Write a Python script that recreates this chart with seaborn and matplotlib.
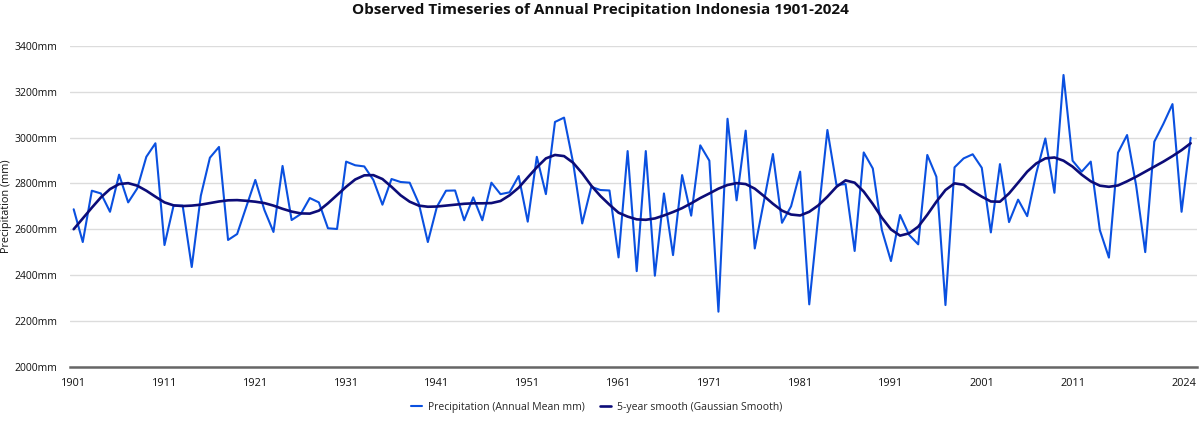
import numpy as np
import pandas as pd
import matplotlib
matplotlib.use("Agg")
import matplotlib.pyplot as plt
import matplotlib.transforms as mtransforms
import seaborn as sns

years = list(range(1901, 2025))

precip = [
    2687, 2544, 2768, 2756, 2676, 2838, 2717, 2778, 2916, 2975,
    2531, 2703, 2703, 2435, 2746, 2912, 2959, 2553, 2579, 2697,
    2815, 2684, 2588, 2876, 2640, 2666, 2736, 2717, 2604, 2601,
    2895, 2879, 2874, 2815, 2707, 2819, 2806, 2803, 2713, 2544,
    2698, 2768, 2769, 2639, 2739, 2639, 2803, 2753, 2761, 2832,
    2633, 2916, 2753, 3068, 3087, 2890, 2625, 2785, 2771, 2769,
    2477, 2941, 2417, 2941, 2397, 2756, 2487, 2836, 2659, 2966,
    2899, 2240, 3082, 2726, 3030, 2516, 2720, 2928, 2628, 2700,
    2851, 2272, 2660, 3033, 2793, 2797, 2505, 2935, 2865, 2596,
    2461, 2662, 2575, 2534, 2924, 2829, 2269, 2870, 2909, 2927,
    2868, 2586, 2884, 2631, 2729, 2657, 2844, 2996, 2759, 3273,
    2899, 2851, 2895, 2596, 2476, 2934, 3011, 2790, 2500, 2982,
    3060, 3146, 2676, 2999,
]

smooth = [
    2600, 2647, 2694, 2739, 2775, 2797, 2801, 2790, 2768, 2742,
    2717, 2704, 2701, 2703, 2707, 2714, 2721, 2726, 2727, 2724,
    2720, 2714, 2703, 2689, 2677, 2669, 2668, 2681, 2713, 2749,
    2785, 2817, 2835, 2836, 2819, 2785, 2748, 2720, 2703, 2698,
    2699, 2703, 2707, 2711, 2713, 2713, 2714, 2723, 2748, 2781,
    2826, 2870, 2909, 2924, 2919, 2890, 2844, 2790, 2745, 2707,
    2672, 2655, 2643, 2641, 2647, 2660, 2675, 2692, 2713, 2736,
    2756, 2777, 2793, 2801, 2797, 2777, 2745, 2711, 2681, 2664,
    2660, 2676, 2704, 2742, 2785, 2813, 2803, 2764, 2710, 2650,
    2599, 2572, 2582, 2611, 2663, 2720, 2771, 2800, 2794, 2766,
    2742, 2721, 2720, 2756, 2803, 2851, 2887, 2909, 2913, 2899,
    2873, 2838, 2809, 2790, 2785, 2791, 2809, 2829, 2851, 2873,
    2895, 2919, 2945, 2975,
]

series_names = ["Precipitation (Annual Mean mm)", "5-year smooth (Gaussian Smooth)"]
x_ticks = [1901, 1911, 1921, 1931, 1941, 1951, 1961, 1971, 1981, 1991, 2001, 2011, 2024]
y_ticks = [2000, 2200, 2400, 2600, 2800, 3000, 3200, 3400]

df = pd.DataFrame({
    "Year": years * 2,
    "Value": precip + smooth,
    "Series": [series_names[0]] * len(years) + [series_names[1]] * len(years),
})

sns.set_theme(style="white")
plt.rcParams["font.family"] = ["Open Sans", "DejaVu Sans"]

fig, ax = plt.subplots(figsize=(12, 4.21), dpi=100)
fig.subplots_adjust(left=0.058, right=0.9975, bottom=0.129, top=0.891)

palette = {series_names[0]: "#0a50e0", series_names[1]: "#0c0c78"}
sizes = {series_names[0]: 1.5, series_names[1]: 1.9}
sns.lineplot(data=df, x="Year", y="Value", hue="Series", size="Series",
             palette=palette, sizes=sizes, hue_order=series_names,
             size_order=series_names, ax=ax, legend=False)

ax.set_xlim(1900.55, 2024.7)
ax.set_ylim(2000, 3400)
ax.set_xticks(x_ticks)
ax.set_xticklabels([str(t) for t in x_ticks], fontsize=7.8, color="#111111")
ax.set_yticks(y_ticks)
ax.set_yticklabels([f"{t}mm" for t in y_ticks], fontsize=7.5, color="#111111")
ax.tick_params(axis="x", length=0, pad=8)
ax.tick_params(axis="y", length=0, pad=8.6)
# keep the last year label inside the figure
last = ax.get_xticklabels()[-1]
last.set_transform(last.get_transform() +
                   mtransforms.ScaledTranslation(-7 / 100, 0, fig.dpi_scale_trans))

ax.grid(axis="y", color="#dcdcdc", linewidth=1)
ax.grid(axis="x", visible=False)
for side in ["left", "right", "top"]:
    ax.spines[side].set_visible(False)
ax.spines["bottom"].set_color("#666666")
ax.spines["bottom"].set_linewidth(1.8)

ax.set_xlabel("")
ax.set_ylabel("Precipitation (mm)", fontsize=7.8, color="#111111")
ax.yaxis.set_label_coords(-0.0515, 0.5)

fig.suptitle("Observed Timeseries of Annual Precipitation Indonesia 1901-2024",
             fontsize=11, fontweight="bold", y=0.976, va="center", color="#111111")

handles = [plt.Line2D([0], [0], color=palette[n], linewidth=sizes[n]) for n in series_names]
fig.legend(handles, series_names, loc="center", bbox_to_anchor=(0.497, 0.033), ncol=2,
           frameon=False, fontsize=7.5, handlelength=1.1, handletextpad=0.5, columnspacing=1.5)

fig.savefig("out.png", dpi=100)
